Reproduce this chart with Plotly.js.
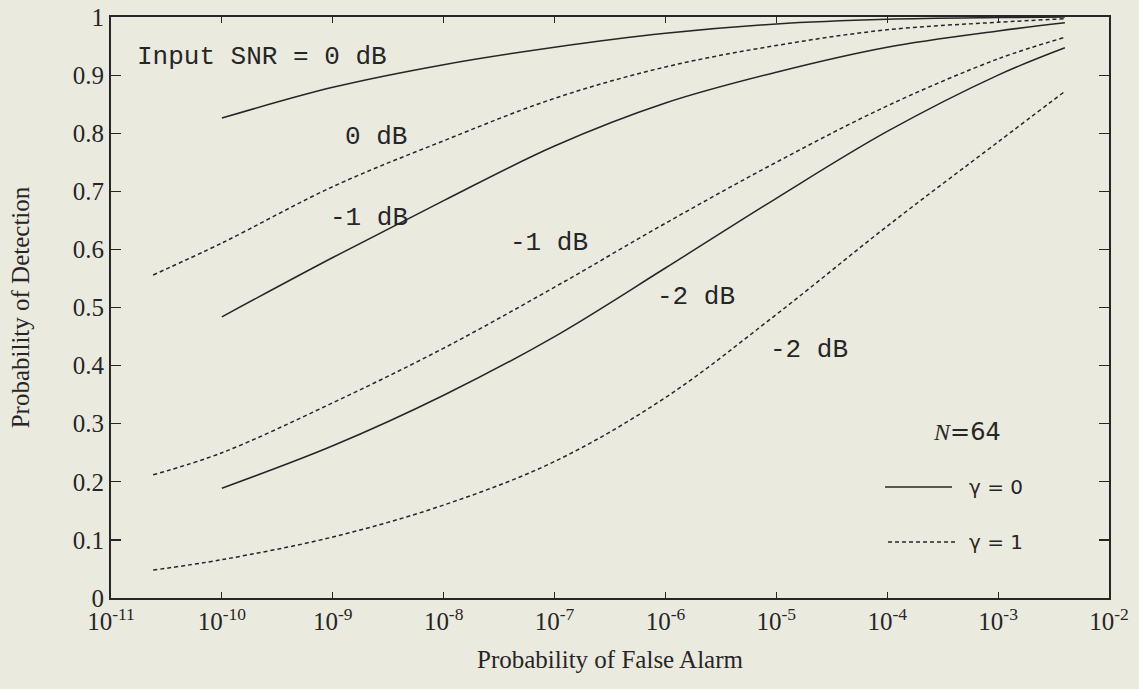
<!DOCTYPE html>
<html>
<head>
<meta charset="utf-8">
<script src="https://cdn.plot.ly/plotly-3.0.1.min.js"></script>
<style>
  html, body { margin: 0; padding: 0; background: #ebeadf; }
  #chart { width: 1139px; height: 689px; }
</style>
</head>
<body>
<div id="chart"></div>
<script>
// ---- data ----
const pfaSolid  = [1e-10, 1e-9, 1e-8, 1e-7, 1e-6, 1e-5, 1e-4, 1e-3, 4e-3];
const pfaDashed = [2.4e-11, 1e-10, 1e-9, 1e-8, 1e-7, 1e-6, 1e-5, 1e-4, 1e-3, 4e-3];

const pdGamma0_0dB  = [0.826, 0.879, 0.918, 0.948, 0.972, 0.988, 0.996, 0.999, 1.000];
const pdGamma0_m1dB = [0.484, 0.586, 0.684, 0.778, 0.852, 0.905, 0.948, 0.976, 0.990];
const pdGamma0_m2dB = [0.189, 0.262, 0.349, 0.450, 0.568, 0.688, 0.803, 0.900, 0.947];

const pdGamma1_0dB  = [0.556, 0.611, 0.708, 0.787, 0.860, 0.914, 0.951, 0.978, 0.991, 0.997];
const pdGamma1_m1dB = [0.212, 0.250, 0.336, 0.430, 0.535, 0.645, 0.750, 0.847, 0.928, 0.965];
const pdGamma1_m2dB = [0.048, 0.066, 0.105, 0.160, 0.235, 0.345, 0.488, 0.640, 0.785, 0.872];

const xTickVals = [1e-11, 1e-10, 1e-9, 1e-8, 1e-7, 1e-6, 1e-5, 1e-4, 1e-3, 1e-2];
const xTickText = ['10<sup>-11</sup>', '10<sup>-10</sup>', '10<sup>-9</sup>', '10<sup>-8</sup>',
                   '10<sup>-7</sup>', '10<sup>-6</sup>', '10<sup>-5</sup>', '10<sup>-4</sup>',
                   '10<sup>-3</sup>', '10<sup>-2</sup>'];
const yTickVals = [0, 0.1, 0.2, 0.3, 0.4, 0.5, 0.6, 0.7, 0.8, 0.9, 1];
const yTickText = ['0', '0.1', '0.2', '0.3', '0.4', '0.5', '0.6', '0.7', '0.8', '0.9', '1'];

// ---- styles ----
const ink = '#262626';
const bg = '#ebeadf';
const solidLine  = {color: ink, width: 1.5, shape: 'spline', smoothing: 1};
const dashedLine = {color: ink, width: 1.5, shape: 'spline', smoothing: 1, dash: '4px,3px'};

function trace(x, y, line, name) {
  return {x: x, y: y, mode: 'lines', line: line, name: name, showlegend: false, hoverinfo: 'x+y'};
}

const traces = [
  trace(pfaSolid,  pdGamma0_0dB,  solidLine,  'γ=0, 0 dB'),
  trace(pfaSolid,  pdGamma0_m1dB, solidLine,  'γ=0, -1 dB'),
  trace(pfaSolid,  pdGamma0_m2dB, solidLine,  'γ=0, -2 dB'),
  trace(pfaDashed, pdGamma1_0dB,  dashedLine, 'γ=1, 0 dB'),
  trace(pfaDashed, pdGamma1_m1dB, dashedLine, 'γ=1, -1 dB'),
  trace(pfaDashed, pdGamma1_m2dB, dashedLine, 'γ=1, -2 dB')
];

const mono = 'Liberation Mono, Courier New, monospace';
const serif = 'Liberation Serif, Times New Roman, serif';

function label(text, x, y, size, family) {
  return {text: text, xref: 'x', yref: 'y', x: x, y: y, xanchor: 'left', yanchor: 'middle',
          showarrow: false, font: {family: family || mono, size: size || 26, color: ink}};
}
function plabel(text, x, y, size, family) {
  return {text: text, xref: 'paper', yref: 'paper', x: x, y: y, xanchor: 'left', yanchor: 'middle',
          showarrow: false, font: {family: family || mono, size: size || 22, color: ink}};
}

const annotations = [
  label('Input SNR = 0 dB', -10.784, 0.931),
  label('0 dB', -8.908, 0.793),
  label('-1 dB', -9.043, 0.654),
  label('-1 dB', -7.420, 0.611),
  label('-2 dB', -6.095, 0.518),
  label('-2 dB', -5.076, 0.427),
  plabel('<i style="font-family:Liberation Serif">N</i>=64', 0.8217, 0.286, 24, 'DejaVu Sans, sans-serif'),
  plabel('γ = 0', 0.8577, 0.191, 20, 'DejaVu Sans, sans-serif'),
  plabel('γ = 1', 0.8577, 0.0964, 20, 'DejaVu Sans, sans-serif')
];

const shapes = [
  {type: 'line', xref: 'paper', yref: 'paper', x0: 0.7756, x1: 0.8427, y0: 0.191, y1: 0.191,
   line: {color: ink, width: 1.5}},
  {type: 'line', xref: 'paper', yref: 'paper', x0: 0.7786, x1: 0.8477, y0: 0.0964, y1: 0.0964,
   line: {color: ink, width: 1.5, dash: '4px,3px'}}
];

const layout = {
  width: 1139, height: 689,
  margin: {l: 111, r: 30, t: 17, b: 91},
  paper_bgcolor: bg, plot_bgcolor: bg,
  showlegend: false,
  font: {family: serif, color: ink, size: 25},
  xaxis: {
    type: 'log', range: [-11, -2],
    tickvals: xTickVals, ticktext: xTickText,
    ticks: 'inside', ticklen: 6, tickwidth: 1.2, tickcolor: ink,
    showline: true, linecolor: ink, linewidth: 2, mirror: 'ticks',
    showgrid: false, zeroline: false,
    tickfont: {family: serif, size: 25, color: ink},
    title: {text: 'Probability of False Alarm', font: {family: serif, size: 25, color: ink}, standoff: 16}
  },
  yaxis: {
    range: [0, 1],
    tickvals: yTickVals, ticktext: yTickText,
    ticks: 'inside', ticklen: 10, tickwidth: 1.2, tickcolor: ink,
    showline: true, linecolor: ink, linewidth: 2, mirror: 'ticks',
    showgrid: false, zeroline: false,
    tickfont: {family: serif, size: 25, color: ink},
    title: {text: 'Probability of Detection', font: {family: serif, size: 25, color: ink}, standoff: 36}
  },
  annotations: annotations,
  shapes: shapes
};

Plotly.newPlot('chart', traces, layout, {staticPlot: true, displayModeBar: false});
</script>
</body>
</html>
